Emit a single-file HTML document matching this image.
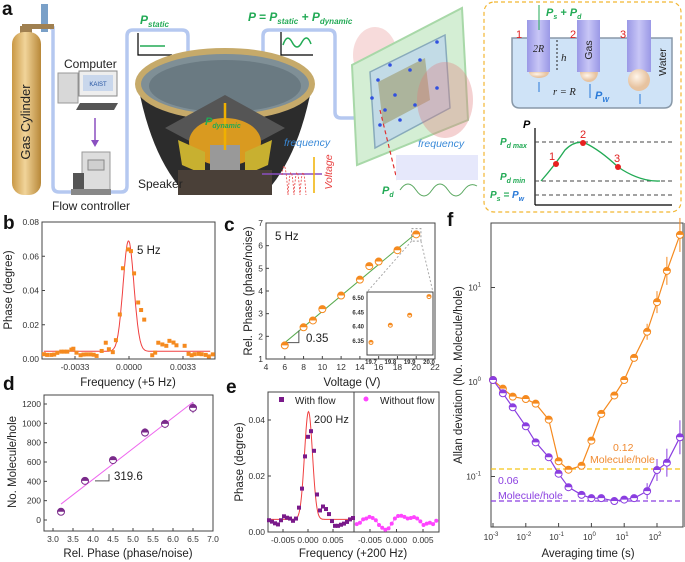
<!DOCTYPE html>
<html><head><meta charset="utf-8"><style>
html,body{margin:0;padding:0;background:#fff;}
svg{display:block;font-family:"Liberation Sans",Arial,sans-serif;}
.tk{font-size:8.5px;fill:#333;}
.at{font-size:11.5px;fill:#222;}
.pl{font-size:19px;font-weight:bold;fill:#111;}
</style></head><body>
<svg id="fig" width="685" height="562" viewBox="0 0 685 562" xmlns="http://www.w3.org/2000/svg">
<defs>
<linearGradient id="cyl" x1="0" x2="1"><stop offset="0" stop-color="#c99845"/><stop offset="0.45" stop-color="#f1d49a"/><stop offset="1" stop-color="#b88838"/></linearGradient>
<linearGradient id="tube" x1="0" x2="1"><stop offset="0" stop-color="#9a98e6"/><stop offset="0.5" stop-color="#c8c6f6"/><stop offset="1" stop-color="#9a98e6"/></linearGradient>
<radialGradient id="bub" cx="0.4" cy="0.35"><stop offset="0" stop-color="#fff5ea"/><stop offset="1" stop-color="#e7c3a0"/></radialGradient>
</defs>

<!-- ===== Panel a ===== -->
<g>
<text class="pl" x="2" y="15">a</text>
<!-- tubes -->
<path d="M50,28 L53,28 L53,186 Q53,192 59,192 L74,192 M110,192 L121,192 Q127,192 127,186 L127,36 Q127,30 133,30 L182,30 Q188,30 188,36 L188,110 M263,110 L263,36 Q263,30 269,30 L329,30 Q335,30 335,36 L335,112 Q335,118 341,118 L355,118" fill="none" stroke="#b5c8f0" stroke-width="3.5"/>
<!-- gas cylinder -->
<g>
<rect x="41" y="4" width="7" height="28" fill="#7aa0c8"/>
<rect x="22" y="24" width="32" height="5" fill="#a08050"/>
<rect x="20" y="26" width="12" height="8" fill="#a08050"/>
<rect x="12" y="32" width="29" height="163" rx="12" fill="url(#cyl)"/>
<text x="30" y="122" transform="rotate(-90 30 122)" text-anchor="middle" font-size="13" fill="#222">Gas Cylinder</text>
</g>
<!-- computer -->
<g>
<text x="64" y="68" font-size="12" fill="#222">Computer</text>
<rect x="58" y="73" width="20" height="30" fill="#d8d8d8" stroke="#999"/>
<rect x="79" y="71" width="38" height="25" fill="#eee" stroke="#888"/>
<rect x="83" y="75" width="30" height="16" fill="#c9d7ec"/>
<text x="98" y="86" font-size="6" fill="#2050a0" text-anchor="middle">KAIST</text>
<polygon points="80,103 118,103 114,110 76,110" fill="#555"/>
<line x1="95" y1="118" x2="95" y2="143" stroke="#8a4fc0" stroke-width="1.5"/>
<path d="M91,140 L95,147 L99,140 Z" fill="#8a4fc0"/>
</g>
<g>
<rect x="82" y="152" width="28" height="38" fill="#ddd" stroke="#999"/>
<rect x="88" y="160" width="16" height="10" fill="#cfcfcf" stroke="#888"/>
<rect x="73" y="173" width="11" height="19" fill="#555"/>
<rect x="71" y="189" width="40" height="6" fill="#888"/>
<text x="52" y="210" font-size="12" fill="#222">Flow controller</text>
</g>
<!-- P_static icon -->
<text x="140" y="24" font-size="12" font-weight="bold" font-style="italic" fill="#22aa55">P<tspan font-size="8" dy="3">static</tspan></text>
<path d="M138,33 L138,55 L172,55" fill="none" stroke="#000" stroke-width="1.2"/>
<line x1="140" y1="46" x2="165" y2="46" stroke="#22aa55" stroke-width="1.5"/>
<!-- speaker -->
<g>
<path d="M138,85 Q150,150 178,185 L272,185 Q300,150 312,85 Z" fill="#2c2c2c"/>
<ellipse cx="225" cy="84" rx="87" ry="33" fill="#7f8f96" stroke="#c6aa6a" stroke-width="6"/>
<ellipse cx="225" cy="86" rx="76" ry="26" fill="#6a7a82"/>
<path d="M225,95 L165,128 L225,160 L285,128 Z" fill="#555"/>
<ellipse cx="225" cy="142" rx="36" ry="24" fill="#d99a20"/>
<rect x="210" y="145" width="30" height="30" fill="#999"/>
<path d="M178,140 L205,152 L205,175 L182,165 Z M272,140 L245,152 L245,175 L268,165 Z" fill="#c8b030"/>
<rect x="178" y="170" width="94" height="25" fill="#4a4038"/>
<line x1="225" y1="103" x2="225" y2="150" stroke="#f0b000" stroke-width="2.5"/>
<text x="205" y="125" font-size="11" font-weight="bold" font-style="italic" fill="#22aa55">P<tspan font-size="7" dy="3">dynamic</tspan></text>
<text x="138" y="188" font-size="12" fill="#222">Speaker</text>
<line x1="262" y1="174" x2="322" y2="174" stroke="#8a4fc0" stroke-width="1.5"/>
</g>
<text x="248" y="21" font-size="12" font-weight="bold" font-style="italic" fill="#22aa55">P = P<tspan font-size="8" dy="3">static</tspan><tspan dy="-3"> + P</tspan><tspan font-size="8" dy="3">dynamic</tspan></text>
<path d="M281,32 L281,55 L313,55" fill="none" stroke="#000" stroke-width="1.2"/>
<path d="M283,45 Q287,33 292,42 Q297,52 302,42 Q307,33 311,44" fill="none" stroke="#22aa55" stroke-width="1.5"/>
<text x="284" y="146" font-size="10.5" font-style="italic" fill="#3a8ad8">frequency</text>
<path d="M282,175 Q285,150 288,195 Q291,150 294,195 Q297,150 300,195 Q303,150 306,195" fill="none" stroke="#e84040" stroke-width="0.8" stroke-dasharray="2,1.5"/>
<line x1="314" y1="157" x2="314" y2="193" stroke="#f0b000" stroke-width="1.5"/>
<text x="332" y="172" transform="rotate(-90 332 172)" text-anchor="middle" font-size="10.5" font-style="italic" fill="#e84040">Voltage</text>
<!-- chip -->
<g>
<ellipse cx="375" cy="55" rx="22" ry="28" fill="#f0b8b8" opacity="0.5"/>
<polygon points="352,65 462,8 468,120 357,165" fill="#d4eed4" stroke="#a8d8a8" stroke-width="2"/>
<polygon points="370,72 445,35 450,108 375,148" fill="#c2dbe6" stroke="#8ab" stroke-width="1.5"/>
<polygon points="378,82 425,58 430,100 383,125" fill="#9c9a6a" opacity="0.6"/>
<ellipse cx="445" cy="100" rx="28" ry="38" fill="#e07a7a" opacity="0.35"/>
<g fill="#3050e0">
<circle cx="378" cy="80" r="1.8"/><circle cx="395" cy="95" r="1.8"/><circle cx="410" cy="70" r="1.8"/><circle cx="385" cy="110" r="1.8"/><circle cx="420" cy="60" r="1.8"/><circle cx="437" cy="42" r="1.8"/><circle cx="400" cy="120" r="1.8"/><circle cx="380" cy="125" r="1.8"/><circle cx="415" cy="105" r="1.8"/><circle cx="437" cy="88" r="1.8"/><circle cx="390" cy="65" r="1.8"/><circle cx="372" cy="98" r="1.8"/>
</g>
<line x1="380" y1="110" x2="397" y2="180" stroke="#e03030" stroke-width="1.2" stroke-dasharray="4,3"/>
</g>
<text x="418" y="147" font-size="10.5" font-style="italic" fill="#3a8ad8">frequency</text>
<rect x="396" y="155" width="82" height="25" fill="#e6e8fb"/>
<path d="M400,190 Q408,178 416,190 Q424,202 432,190 Q440,178 448,190 Q456,202 464,190 Q470,182 477,186" fill="none" stroke="#5aa860" stroke-width="1"/>
<text x="382" y="194" font-size="11" font-weight="bold" font-style="italic" fill="#22aa55">P<tspan font-size="7" dy="3">d</tspan></text>
<!-- inset box -->
<g>
<rect x="484" y="2" width="197" height="210" rx="10" fill="none" stroke="#f2b632" stroke-width="1.2" stroke-dasharray="4,3"/>
<path d="M512,38 L672,38 L672,100 Q672,108 664,108 L520,108 Q512,108 512,100 Z" fill="#cfe3f7" stroke="#8898a8" stroke-width="1.5"/>
<rect x="527" y="20" width="23" height="52" fill="url(#tube)"/>
<rect x="577" y="20" width="23" height="52" fill="url(#tube)"/>
<rect x="627" y="20" width="24" height="52" fill="url(#tube)"/>
<path d="M529,72 A10,6 0 0 0 549,72 Z" fill="url(#bub)"/>
<path d="M580,72 A9,10 0 0 0 598,72 Z" fill="url(#bub)"/>
<circle cx="639" cy="80" r="11" fill="url(#bub)"/>
<text x="516" y="38" font-size="11" fill="#e02020">1</text>
<text x="570" y="38" font-size="11" fill="#e02020">2</text>
<text x="620" y="38" font-size="11" fill="#e02020">3</text>
<line x1="539" y1="5" x2="539" y2="30" stroke="#22aa55" stroke-width="1"/>
<text x="546" y="16" font-size="11" font-weight="bold" font-style="italic" fill="#22aa55">P<tspan font-size="7" dy="3">s</tspan><tspan dy="-3"> + P</tspan><tspan font-size="7" dy="3">d</tspan></text>
<text x="533" y="52" font-size="10" font-style="italic" fill="#222" font-family="Liberation Serif,serif">2R</text>
<text x="561" y="61" font-size="11" font-style="italic" fill="#222" font-family="Liberation Serif,serif">h</text>
<line x1="557" y1="40" x2="557" y2="70" stroke="#222" stroke-dasharray="2,2"/>
<text x="592" y="50" transform="rotate(-90 592 50)" text-anchor="middle" font-size="10.5" fill="#222">Gas</text>
<text x="666" y="62" transform="rotate(-90 666 62)" text-anchor="middle" font-size="10.5" fill="#222">Water</text>
<text x="553" y="95" font-size="10.5" font-style="italic" fill="#222" font-family="Liberation Serif,serif">r = R</text>
<text x="595" y="99" font-size="11" font-weight="bold" font-style="italic" fill="#2a7ad8">P<tspan font-size="7" dy="3">W</tspan></text>
<path d="M539,92 L539,82 M590,98 L590,84 M640,104 L640,94" stroke="#2a7ad8" stroke-width="1"/>
<path d="M535,205 L535,128 M535,205 L672,205" stroke="#000" stroke-width="1.2" fill="none"/>
<text x="523" y="128" font-size="11" font-weight="bold" font-style="italic" fill="#000">P</text>
<path d="M535,142 L672,142 M535,181 L672,181 M535,195 L672,195" stroke="#444" stroke-dasharray="4,3" stroke-width="1"/>
<path d="M541,181 Q555,165 565,150 Q575,140 585,143 Q600,150 618,167 Q640,182 660,181" fill="none" stroke="#22aa55" stroke-width="1.3"/>
<circle cx="556" cy="164" r="3" fill="#e82020"/><circle cx="583" cy="143" r="3" fill="#e82020"/><circle cx="618" cy="167" r="3" fill="#e82020"/>
<text x="549" y="160" font-size="11" fill="#e02020">1</text><text x="580" y="138" font-size="11" fill="#e02020">2</text><text x="614" y="162" font-size="11" fill="#e02020">3</text>
<text x="500" y="145" font-size="10" font-weight="bold" font-style="italic" fill="#22aa55">P<tspan font-size="7" dy="3">d max</tspan></text>
<text x="500" y="180" font-size="10" font-weight="bold" font-style="italic" fill="#22aa55">P<tspan font-size="7" dy="3">d min</tspan></text>
<text x="490" y="198" font-size="10" font-weight="bold" font-style="italic" fill="#22aa55">P<tspan font-size="7" dy="3">s</tspan><tspan dy="-3"> = </tspan><tspan fill="#2a7ad8">P</tspan><tspan font-size="7" dy="3" fill="#2a7ad8">w</tspan></text>
</g>
</g>

<!-- panel labels & static text -->
<text class="pl" x="3" y="229">b</text>
<text class="pl" x="224" y="231">c</text>
<text class="pl" x="447" y="226">f</text>
<text class="pl" x="3" y="390">d</text>
<text class="pl" x="226" y="393">e</text>

<text class="at" x="12" y="290" transform="rotate(-90 12 290)" text-anchor="middle">Phase (degree)</text>
<text class="at" x="128" y="386" text-anchor="middle">Frequency (+5 Hz)</text>
<text x="137" y="254" font-size="11.5" fill="#222">5 Hz</text>

<text class="at" x="252" y="291" transform="rotate(-90 252 291)" text-anchor="middle">Rel. Phase (phase/noise)</text>
<text class="at" x="352" y="386" text-anchor="middle">Voltage (V)</text>
<text x="275" y="240" font-size="11.5" fill="#222">5 Hz</text>
<text x="306" y="342" font-size="11.5" fill="#222">0.35</text>

<text class="at" x="16" y="462" transform="rotate(-90 16 462)" text-anchor="middle">No. Molecule/hole</text>
<text class="at" x="128" y="557" text-anchor="middle">Rel. Phase (phase/noise)</text>
<text x="114" y="480" font-size="11.5" fill="#222">319.6</text>

<text class="at" x="243" y="462" transform="rotate(-90 243 462)" text-anchor="middle">Phase (degree)</text>
<text class="at" x="353" y="557" text-anchor="middle">Frequency (+200 Hz)</text>
<text x="314" y="423" font-size="11" fill="#222">200 Hz</text>
<rect x="279" y="397" width="5" height="5" fill="#7a1a8a"/>
<text x="295" y="404" font-size="10" fill="#222">With flow</text>
<circle cx="366" cy="399" r="2.5" fill="#ff44ff"/>
<text x="380" y="404" font-size="10" fill="#222">Without flow</text>

<text class="at" x="462" y="375" transform="rotate(-90 462 375)" text-anchor="middle">Allan deviation (No. Molecule/hole)</text>
<text class="at" x="588" y="557" text-anchor="middle">Averaging time (s)</text>
<text x="613" y="451" font-size="10.5" fill="#f08a30">0.12</text>
<text x="590" y="463" font-size="10.5" fill="#f08a30">Molecule/hole</text>
<text x="498" y="484" font-size="10.5" fill="#8a3ee0">0.06</text>
<text x="498" y="499" font-size="10.5" fill="#8a3ee0">Molecule/hole</text>
<g id="charts"></g>
</svg>
<script>
// ---- Panel b data ----
const bFreq=[-0.0052,-0.0050,-0.00475,-0.00457,-0.00438,-0.00414,-0.00395,-0.00377,-0.00352,-0.0034,-0.00321,-0.00296,-0.00278,-0.00259,-0.00235,-0.00216,-0.00198,-0.00167,-0.00142,-0.00123,-0.00099,-0.0008,-0.00056,-0.00037,-0.00006,0.00012,0.00031,0.00056,0.00074,0.00093,0.00142,0.0016,0.00179,0.00204,0.00228,0.00247,0.00272,0.0029,0.0034,0.00364,0.00383,0.00401,0.00426,0.00444,0.00469,0.00488,0.00512];
const bPhase=[0.0028,0.0024,0.0024,0.0026,0.0036,0.0043,0.0043,0.0043,0.0055,0.006,0.0037,0.0022,0.0026,0.0027,0.0027,0.0025,0.0018,0.0047,0.0095,0.0057,0.004,0.011,0.026,0.053,0.064,0.063,0.05,0.033,0.0286,0.023,0.0022,0.0037,0.0095,0.0085,0.0077,0.0106,0.0096,0.008,0.0077,0.003,0.0022,0.0028,0.003,0.0028,0.0024,0.0015,0.0027];
const bTicksY=[0,0.02,0.04,0.06,0.08];
const bTicksYLabels=["0.00","0.02","0.04","0.06","0.08"];
const bTicksX=[-0.0033,0,0.0033];
const bTicksXLabels=["-0.0033","0.0000","0.0033"];
// ---- Panel c data ----
const cVolt=[6,8,9,10,12,14,15,16,18,20];
const cPhase=[1.6,2.4,2.7,3.2,3.8,4.5,5.1,5.3,5.8,6.5];
const cTicksX=[4,6,8,10,12,14,16,18,20,22];
const cTicksY=[1,2,3,4,5,6,7];
const cInsetVolt=[19.7,19.8,19.9,20.0];
const cInsetPhase=[6.345,6.405,6.44,6.505];
const cInsetTicksX=[19.7,19.8,19.9,20.0];
const cInsetTicksY=[6.35,6.40,6.45,6.50];
// ---- Panel d data ----
const dPhase=[3.2,3.8,4.5,5.3,5.8,6.5];
const dMolecules=[85,405,620,905,995,1160];
const dErr=[20,25,25,45,45,55];
const dTicksX=[3.0,3.5,4.0,4.5,5.0,5.5,6.0,6.5,7.0];
const dTicksY=[0,200,400,600,800,1000,1200];
// ---- Panel e data ----
const eFreqFlow=[-0.0078,-0.0072,-0.0066,-0.006,-0.0054,-0.0048,-0.0042,-0.0036,-0.003,-0.0024,-0.0018,-0.0012,-0.0006,0.0,0.0006,0.0012,0.0018,0.0024,0.003,0.0036,0.0042,0.0048,0.0054,0.006,0.0066,0.0072,0.0078,0.0084,0.009];
const ePhaseFlow=[0.0042,0.0037,0.0031,0.0027,0.0042,0.0056,0.0051,0.0048,0.004,0.0048,0.0087,0.0155,0.027,0.034,0.036,0.029,0.0134,0.0077,0.0091,0.0082,0.0064,0.0039,0.0022,0.0022,0.0026,0.003,0.0036,0.0045,0.005];
const eFreqNoFlow=[-0.0075,-0.0069,-0.0063,-0.0057,-0.0051,-0.0045,-0.0039,-0.0033,-0.0027,-0.0021,-0.0015,-0.0009,-0.0003,0.0003,0.0009,0.0015,0.0021,0.0027,0.0033,0.0039,0.0045,0.0051,0.0057,0.0063,0.0069,0.0075];
const ePhaseNoFlow=[0.0028,0.0033,0.0045,0.0048,0.0054,0.005,0.0042,0.0025,0.0015,0.0008,0.0013,0.003,0.0048,0.0057,0.0058,0.0054,0.0048,0.005,0.0053,0.0048,0.0038,0.0025,0.003,0.0033,0.0028,0.004];
const eTicksX=[-0.005,0,0.005];
const eTicksXLabels=["-0.005","0.000","0.005"];
const eTicksY=[0,0.02,0.04];
const eTicksYLabels=["0.00","0.02","0.04"];
// ---- Panel f data ----
const fTau=[0.001,0.002,0.004,0.01,0.02,0.05,0.1,0.2,0.5,1,2,5,10,20,50,100,200,500];
const fOrange=[1.05,0.85,0.70,0.66,0.59,0.40,0.145,0.118,0.13,0.24,0.46,0.72,1.05,1.8,3.4,7.0,15,36];
const fPurple=[1.05,0.76,0.54,0.34,0.23,0.16,0.107,0.077,0.064,0.059,0.059,0.055,0.057,0.059,0.07,0.117,0.14,0.26];
const fOrangeLimit=0.12;
const fPurpleLimit=0.055;
const fTicksXExp=[-3,-2,-1,0,1,2];
const fTicksYExp=[-1,0,1];

const NS="http://www.w3.org/2000/svg";
const root=document.getElementById('charts');
function mk(tag,attrs,parent){const e=document.createElementNS(NS,tag);for(const k in attrs)e.setAttribute(k,attrs[k]);(parent||root).appendChild(e);return e;}
function lin(d0,d1,r0,r1){return v=>r0+(v-d0)*(r1-r0)/(d1-d0);}
function frame(x0,y0,x1,y1,name){
  const r=mk('rect',{x:x0,y:y0,width:x1-x0,height:y1-y0,fill:'none',stroke:'#444','stroke-width':1});
  
  
}
function xticks(vals,labels,sx,y,name,fs){
  vals.forEach((v,i)=>{
    const x=sx(v);
    mk('line',{x1:x,y1:y,x2:x,y2:y-3,stroke:'#444'});
    const t=mk('text',{x:x,y:y+11,'text-anchor':'middle',class:'tk'});
    if(fs)t.setAttribute('font-size',fs);
    t.textContent=labels?labels[i]:String(v);
    
    
  });
}
function yticks(vals,labels,sy,x,name,fs){
  vals.forEach((v,i)=>{
    const y=sy(v);
    mk('line',{x1:x,y1:y,x2:x+3,y2:y,stroke:'#444'});
    const t=mk('text',{x:x-3,y:y+3,'text-anchor':'end',class:'tk'});
    if(fs)t.setAttribute('font-size',fs);
    t.textContent=labels?labels[i]:String(v);
    
    
  });
}
function polyline(pts,attrs){const p=mk('polyline',Object.assign({points:pts.map(p=>p[0].toFixed(1)+','+p[1].toFixed(1)).join(' '),fill:'none'},attrs));return p;}

// ===== b =====
{
const sx=lin(0,0.0033,129,183), sy=lin(0,0.08,359,222);
frame(42,222,215,359,'b-plot-frame');
yticks(bTicksY,bTicksYLabels,sy,42,'b-y-tick-label');
xticks(bTicksX,bTicksXLabels,sx,359,'b-x-tick-label');
const fit=[];for(let f=-0.0052;f<=0.0050;f+=0.00004){fit.push([sx(f),sy(0.0045+0.0645*Math.exp(-Math.pow((f+0.00003)/0.00033,2)/2))]);}
const fl=polyline(fit,{stroke:'#f04040','stroke-width':1});


bFreq.forEach((f,i)=>{
  const r=mk('rect',{x:sx(f)-2,y:sy(bPhase[i])-2,width:4,height:4,fill:'#f58a1f'});
  
  
});
}
// ===== c =====
{
const sx=lin(4,22,266,435), sy=lin(1,7,359,223);
frame(266,223,435,359,'c-plot-frame');
yticks(cTicksY,null,sy,266,'c-y-tick-label');
xticks(cTicksX,null,sx,359,'c-x-tick-label');
const l=mk('line',{x1:sx(6),y1:sy(1.72),x2:sx(20),y2:sy(6.55),stroke:'#5aaa50','stroke-width':1});


mk('path',{d:`M${sx(6)},${sy(1.72)} L${sx(7.5)},${sy(1.72)} L${sx(7.5)},${sy(2.25)}`,fill:'none',stroke:'#555'});
mk('rect',{x:sx(19.5),y:sy(6.75),width:sx(20.5)-sx(19.5),height:sy(6.2)-sy(6.75),fill:'none',stroke:'#999','stroke-dasharray':'2,2'});
mk('line',{x1:sx(19.5),y1:sy(6.2),x2:367,y2:292,stroke:'#aaa','stroke-dasharray':'2,2'});
mk('line',{x1:sx(20.5),y1:sy(6.2),x2:433,y2:292,stroke:'#aaa','stroke-dasharray':'2,2'});
cVolt.forEach((v,i)=>{
  const c=mk('circle',{cx:sx(v),cy:sy(cPhase[i]),r:3.5,fill:'#fff',stroke:'#f58a1f','stroke-width':1});
  
  
  mk('path',{d:`M${sx(v)-3.5},${sy(cPhase[i])} A3.5,3.5 0 0 1 ${sx(v)+3.5},${sy(cPhase[i])} Z`,fill:'#f58a1f'});
});
const ix=lin(19.7,20.0,371,429), iy=lin(6.35,6.50,341,298);
mk('rect',{x:367,y:292,width:66,height:63,fill:'#fff',stroke:'#444'});
cInsetTicksX.forEach(v=>{const t=mk('text',{x:ix(v),y:364,'text-anchor':'middle','font-size':6,'font-weight':'bold',fill:'#333'});t.textContent=v.toFixed(1);});
cInsetTicksY.forEach(v=>{const t=mk('text',{x:364,y:iy(v)+2,'text-anchor':'end','font-size':6,'font-weight':'bold',fill:'#333'});t.textContent=v.toFixed(2);});
cInsetVolt.forEach((v,i)=>{
  const c=mk('circle',{cx:ix(v),cy:iy(cInsetPhase[i]),r:2,fill:'#fff',stroke:'#f58a1f'});
  
  
  mk('path',{d:`M${ix(v)-2},${iy(cInsetPhase[i])} A2,2 0 0 1 ${ix(v)+2},${iy(cInsetPhase[i])} Z`,fill:'#f58a1f'});
});
}
// ===== d =====
{
const sx=lin(3,7,53,213), sy=lin(0,1200,520,404);
frame(44,395,213,531,'d-plot-frame');
yticks(dTicksY,null,sy,44,'d-y-tick-label');
xticks(dTicksX,dTicksX.map(v=>v.toFixed(1)),sx,531,'d-x-tick-label');
const l=mk('line',{x1:sx(3.2),y1:sy(319.6*3.2-858),x2:sx(6.5),y2:sy(319.6*6.5-858),stroke:'#ee66ee','stroke-width':1});


mk('path',{d:`M${sx(4.05)},${sy(405)} L${sx(4.4)},${sy(405)} L${sx(4.4)},${sy(475)}`,fill:'none',stroke:'#555'});
dPhase.forEach((p,i)=>{
  const x=sx(p),y=sy(dMolecules[i]);
  mk('line',{x1:x,y1:sy(dMolecules[i]+dErr[i]),x2:x,y2:sy(dMolecules[i]-dErr[i]),stroke:'#9a5aaa'});
  const c=mk('circle',{cx:x,cy:y,r:3.5,fill:'#fff',stroke:'#7a2a8a'});
  
  
  mk('path',{d:`M${x-3.5},${y} A3.5,3.5 0 0 1 ${x+3.5},${y} Z`,fill:'#7a2a8a'});
});
}
// ===== e =====
{
const sy=lin(0,0.04,532,420);
const sxL=lin(0,0.005,308,333), sxR=lin(0,0.005,396.5,423);
frame(268,392,354,532,'e-left-frame');
frame(354,392,439,532,'e-right-frame');
yticks(eTicksY,eTicksYLabels,sy,268,'e-y-tick-label');
xticks(eTicksX,eTicksXLabels,sxL,532,'e-left-x-tick-label');
xticks(eTicksX,eTicksXLabels,sxR,532,'e-right-x-tick-label');
const fit=[];for(let f=-0.0078;f<=0.0090;f+=0.0001){fit.push([sxL(f),sy(0.0045+0.0385*Math.exp(-Math.pow((f-0.0001)/0.0008,2)/2))]);}
const fl=polyline(fit,{stroke:'#f04040','stroke-width':1});


eFreqFlow.forEach((f,i)=>{
  const r=mk('rect',{x:sxL(f)-2,y:sy(ePhaseFlow[i])-2,width:4,height:4,fill:'#7a1a8a'});
  
  
});
const nl=polyline(eFreqNoFlow.map((f,i)=>[sxR(f),sy(ePhaseNoFlow[i])]),{stroke:'#ff66ff','stroke-width':0.8});


eFreqNoFlow.forEach((f,i)=>{
  const c=mk('circle',{cx:sxR(f),cy:sy(ePhaseNoFlow[i]),r:2,fill:'#ff44ff'});
  
  
});
}
// ===== f =====
{
const sx=v=>493+(Math.log10(v)+3)*32.8, sy=v=>382-Math.log10(v)*94.5;
frame(491,223,683,527,'f-plot-frame');
mk('rect',{x:683,y:223,width:2,height:304,fill:'#999'});
fTicksXExp.forEach(e=>{
  const x=sx(Math.pow(10,e));
  mk('line',{x1:x,y1:527,x2:x,y2:523,stroke:'#444'});
  const t=mk('text',{x:x-2,y:540,'text-anchor':'middle',class:'tk'});
  t.innerHTML='10<tspan font-size="6" dy="-4">'+e+'</tspan>';
  
  
});
fTicksYExp.forEach(e=>{
  const y=sy(Math.pow(10,e));
  mk('line',{x1:491,y1:y,x2:495,y2:y,stroke:'#444'});
  const t=mk('text',{x:481,y:y+3,'text-anchor':'end',class:'tk'});
  t.innerHTML='10<tspan font-size="6" dy="-4">'+e+'</tspan>';
  
  
});
const lo=mk('line',{x1:491,y1:sy(fOrangeLimit),x2:683,y2:sy(fOrangeLimit),stroke:'#f5c518','stroke-dasharray':'5,3','stroke-width':1.2});


const lp=mk('line',{x1:491,y1:sy(fPurpleLimit),x2:683,y2:sy(fPurpleLimit),stroke:'#8a3ee0','stroke-dasharray':'5,3','stroke-width':1.2});


function series(vals,col,name){
  const pl=polyline(fTau.map((t,i)=>[sx(t),sy(vals[i])]),{stroke:col,'stroke-width':1.2});
  
  
  fTau.forEach((t,i)=>{
    const x=sx(t),y=sy(vals[i]);
    if(i>=14){mk('line',{x1:x,y1:y-8-(i-14)*3,x2:x,y2:y+8+(i-14)*3,stroke:col});}
    const c=mk('circle',{cx:x,cy:y,r:3.5,fill:'#fff',stroke:col});
    
    
    mk('path',{d:`M${x-3.5},${y} A3.5,3.5 0 0 1 ${x+3.5},${y} Z`,fill:col});
  });
}
series(fOrange,'#f58a1f','f-orange-series');
series(fPurple,'#8a3ee0','f-purple-series');
}
</script>
</body></html>
